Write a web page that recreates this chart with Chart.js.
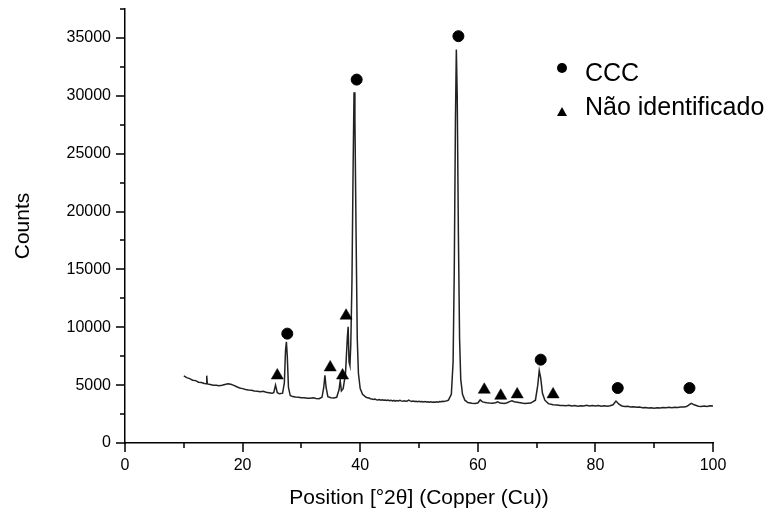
<!DOCTYPE html>
<html>
<head>
<meta charset="utf-8">
<script src="https://cdn.jsdelivr.net/npm/chart.js@4/dist/chart.umd.min.js"></script>
<style>
  html, body { margin: 0; padding: 0; background: #fff; }
  #wrap { width: 776px; height: 514px; position: relative; }
</style>
</head>
<body>
<div id="wrap"><canvas id="c" width="776" height="514"></canvas></div>
<script>
// ---- data ----
const patternTheta = [
  10.0, 10.5, 11.0, 11.5, 12.0, 12.5, 13.0, 13.5, 13.8, 13.9, 14.0, 14.5, 15.0, 15.5, 16.0, 16.5,
  17.0, 17.5, 18.0, 18.5, 19.0, 19.5, 20.0, 20.5, 21.0, 21.5, 22.0, 22.5, 23.0, 23.5, 24.0, 24.5,
  25.0, 25.3, 25.6, 25.9, 26.3, 26.8, 27.1, 27.3, 27.45, 27.6, 27.8, 28.1, 28.5, 29.0, 29.5, 30.0,
  30.5, 31.0, 31.5, 32.0, 32.5, 33.0, 33.5, 33.8, 34.0, 34.2, 34.5, 35.0, 35.5, 36.0, 36.4, 36.6,
  36.8, 37.1, 37.5, 37.8, 37.95, 38.1, 38.25, 38.4, 38.6, 38.8, 38.95, 39.1, 39.3, 39.5, 39.7, 40.0,
  40.4,
  41.0, 41.25, 41.5, 41.75, 42.0, 42.25, 42.5, 42.75, 43.0, 43.25, 43.5, 43.75, 44.0, 44.25, 44.5, 44.75,
  45.0, 45.25, 45.5, 45.75, 46.0, 46.25, 46.5, 46.75, 47.0, 47.25, 47.5, 47.75, 48.0, 48.25, 48.5, 48.75,
  49.0, 49.25, 49.5, 49.75, 50.0, 50.25, 50.5, 50.75, 51.0, 51.25, 51.5, 51.75, 52.0, 52.25, 52.5, 52.75,
  53.0, 53.25, 53.5, 53.75, 54.0, 54.25, 54.5, 54.75, 55.0,
  55.5, 55.8, 56.0, 56.2, 56.35, 56.5, 56.7, 56.9, 57.1, 57.4, 57.8, 58.3, 59.0, 59.5, 60.0, 60.4, 60.8, 61.5,
  62.0, 62.5, 63.0, 63.4, 63.8, 64.5, 65.0, 65.5, 65.8, 66.2, 66.7, 67.5, 68.0, 68.5, 69.0, 69.8,
  70.2, 70.45, 70.7, 71.0, 71.4, 72.0, 72.8, 73.5, 74.0, 74.5, 75.0, 75.5, 76.0, 76.5, 77.0, 77.5,
  78.0, 78.5, 79.0, 79.5, 80.0, 80.5, 81.0, 81.5, 82.0, 82.5, 83.0, 83.5, 84.0, 84.5, 85.0, 85.5,
  86.0, 86.5, 87.0, 87.5, 88.0, 88.5, 89.0, 89.5, 90.0, 90.5, 91.0, 91.5, 92.0, 92.5, 93.0, 93.5,
  94.0, 94.5, 95.0, 95.5, 95.8, 96.3, 96.8, 97.5, 98.0, 98.5, 99.0, 99.5, 100.0
];
const patternCounts = [
  5800, 5650, 5560, 5430, 5390, 5250, 5220, 5140, 5120, 5820, 5100, 5060, 4990, 4990, 4940, 4990,
  5060, 5110, 5070, 4980, 4860, 4760, 4700, 4630, 4580, 4560, 4500, 4470, 4420, 4460, 4380, 4340,
  4300, 4350, 5000, 4350, 4250, 4300, 5200, 8000, 8750, 7500, 4800, 4100, 4010, 3980, 3960, 3910,
  3900, 3870, 3860, 3910, 3850, 3830, 3950, 4800, 5850, 4800, 4000, 3910, 3880, 3950, 4600, 5400,
  4500, 4700, 6000, 9000, 10050, 7000, 6700, 8500, 14000, 24000, 30300, 28000, 18000, 9000, 6000, 4700,
  4200,
  3950, 3900, 3880, 3830, 3800, 3760, 3790, 3740, 3720, 3760, 3700, 3730, 3690, 3710, 3680, 3720,
  3660, 3700, 3640, 3680, 3620, 3660, 3630, 3680, 3640, 3610, 3650, 3600, 3620, 3700, 3640, 3590,
  3620, 3580, 3610, 3570, 3600, 3560, 3590, 3550, 3580, 3540, 3570, 3530, 3560, 3530, 3550, 3520,
  3560, 3530, 3580, 3560, 3600, 3580, 3620, 3650, 3700,
  4200, 7000, 15000, 28000, 34000, 30000, 18000, 9000, 5500, 4200, 3700, 3500, 3430, 3420, 3450, 3720, 3550, 3480,
  3450, 3430, 3480, 3560, 3450, 3420, 3480, 3600, 3640, 3560, 3520, 3450, 3420, 3440, 3450, 3700,
  5000, 6250, 5600, 4300, 3700, 3400, 3300, 3280, 3250, 3240, 3220, 3260, 3200, 3230, 3180, 3220,
  3200, 3250, 3190, 3230, 3200, 3240, 3180, 3210, 3170, 3220, 3300, 3620, 3350, 3200, 3150, 3170,
  3110, 3130, 3080, 3100, 3050, 3070, 3020, 3040, 3000, 3050, 3030, 3070, 3040, 3080, 3050, 3090,
  3070, 3110, 3120, 3160, 3250, 3430, 3300, 3180, 3150, 3190, 3160, 3210, 3200
];
const cccTheta = [27.6, 39.4, 56.7, 70.7, 83.8, 96.0];
const cccCounts = [9450, 31400, 35150, 7200, 4750, 4750];
const naoTheta = [25.9, 34.9, 37.0, 37.6, 61.1, 63.9, 66.7, 72.8];
const naoCounts = [5830, 6530, 5830, 11000, 4600, 4080, 4200, 4200];
const xTicksMajor = [0, 20, 40, 60, 80, 100];
const yTicksMajor = [0, 5000, 10000, 15000, 20000, 25000, 30000, 35000];
const seriesLabels = ['Padrão', 'CCC', 'Não identificado'];
const xTitle = 'Position [°2θ] (Copper (Cu))';
const yTitle = 'Counts';

const toXY = (xs, ys) => xs.map((x, i) => ({ x: x, y: ys[i] }));
const FONT = '"Liberation Sans", Arial, Helvetica, sans-serif';

const tickPlugin = {
  id: 'tickMarks',
  afterDraw(chart) {
    const ctx = chart.ctx;
    const xs = chart.scales.x, ys = chart.scales.y;
    const ca = chart.chartArea;
    ctx.save();
    ctx.strokeStyle = '#000';
    ctx.lineWidth = 1.5;
    ctx.beginPath();
    for (let v = 0; v <= 100; v += 10) {
      const px = Math.round(xs.getPixelForValue(v));
      const len = xTicksMajor.includes(v) ? 9 : 5;
      ctx.moveTo(px, ca.bottom);
      ctx.lineTo(px, ca.bottom + len);
    }
    for (let v = 0; v <= 37500; v += 2500) {
      const py = Math.round(ys.getPixelForValue(v));
      const len = yTicksMajor.includes(v) ? 9 : 5;
      ctx.moveTo(ca.left, py);
      ctx.lineTo(ca.left - len, py);
    }
    ctx.stroke();

    // legend inside plot area (top right)
    const lx = ca.right - 151;
    ctx.fillStyle = '#000';
    ctx.beginPath();
    ctx.arc(lx, ca.top + 59, 5, 0, Math.PI * 2);
    ctx.fill();
    ctx.beginPath();
    const ty = ca.top + 103;
    ctx.moveTo(lx, ty - 5);
    ctx.lineTo(lx + 5, ty + 4);
    ctx.lineTo(lx - 5, ty + 4);
    ctx.closePath();
    ctx.fill();
    ctx.font = '25px ' + FONT;
    ctx.textBaseline = 'alphabetic';
    ctx.textAlign = 'left';
    ctx.fillText(chart.data.datasets[1].label, lx + 23, ca.top + 72);
    ctx.fillText(chart.data.datasets[2].label, lx + 23, ca.top + 106);
    ctx.restore();
  }
};

new Chart(document.getElementById('c'), {
  type: 'scatter',
  data: {
    datasets: [
      {
        label: seriesLabels[0],
        data: toXY(patternTheta, patternCounts),
        showLine: true,
        borderColor: '#222',
        borderWidth: 1.5,
        pointRadius: 0,
        tension: 0,
        order: 3
      },
      {
        label: seriesLabels[1],
        data: toXY(cccTheta, cccCounts),
        pointStyle: 'circle',
        pointRadius: 5.5,
        backgroundColor: '#000',
        borderColor: '#000',
        borderWidth: 1,
        order: 1
      },
      {
        label: seriesLabels[2],
        data: toXY(naoTheta, naoCounts),
        pointStyle: 'triangle',
        pointRadius: 7,
        backgroundColor: '#000',
        borderColor: '#000',
        borderWidth: 0.5,
        order: 2
      }
    ]
  },
  options: {
    responsive: false,
    animation: false,
    layout: { padding: { left: 0, right: 63, top: 9, bottom: 0 } },
    plugins: { legend: { display: false }, tooltip: { enabled: false } },
    scales: {
      x: {
        type: 'linear',
        min: 0, max: 100,
        grid: { display: false, drawTicks: false },
        border: { display: true, color: '#000', width: 1.5 },
        ticks: {
          stepSize: 10,
          autoSkip: false,
          maxRotation: 0,
          padding: 13,
          color: '#000',
          font: { family: FONT, size: 16 },
          callback: (v) => (xTicksMajor.includes(v) ? String(v) : '')
        },
        title: {
          display: true,
          text: xTitle,
          color: '#000',
          font: { family: FONT, size: 21 },
          padding: { top: 0, bottom: 3 }
        },
        afterFit: (s) => { s.height = 71; s.paddingLeft = 0; s.paddingRight = 0; }
      },
      y: {
        type: 'linear',
        min: 0, max: 37500,
        grid: { display: false, drawTicks: false },
        border: { display: true, color: '#000', width: 1.5 },
        ticks: {
          stepSize: 2500,
          autoSkip: false,
          padding: 14,
          color: '#000',
          font: { family: FONT, size: 16 },
          callback: (v) => (yTicksMajor.includes(v) ? String(v) : '')
        },
        title: {
          display: true,
          text: yTitle,
          color: '#000',
          font: { family: FONT, size: 21 },
          padding: { top: 11, bottom: 0 }
        },
        afterFit: (s) => { s.width = 125; s.paddingTop = 0; s.paddingBottom = 0; }
      }
    }
  },
  plugins: [tickPlugin]
});
</script>
</body>
</html>
